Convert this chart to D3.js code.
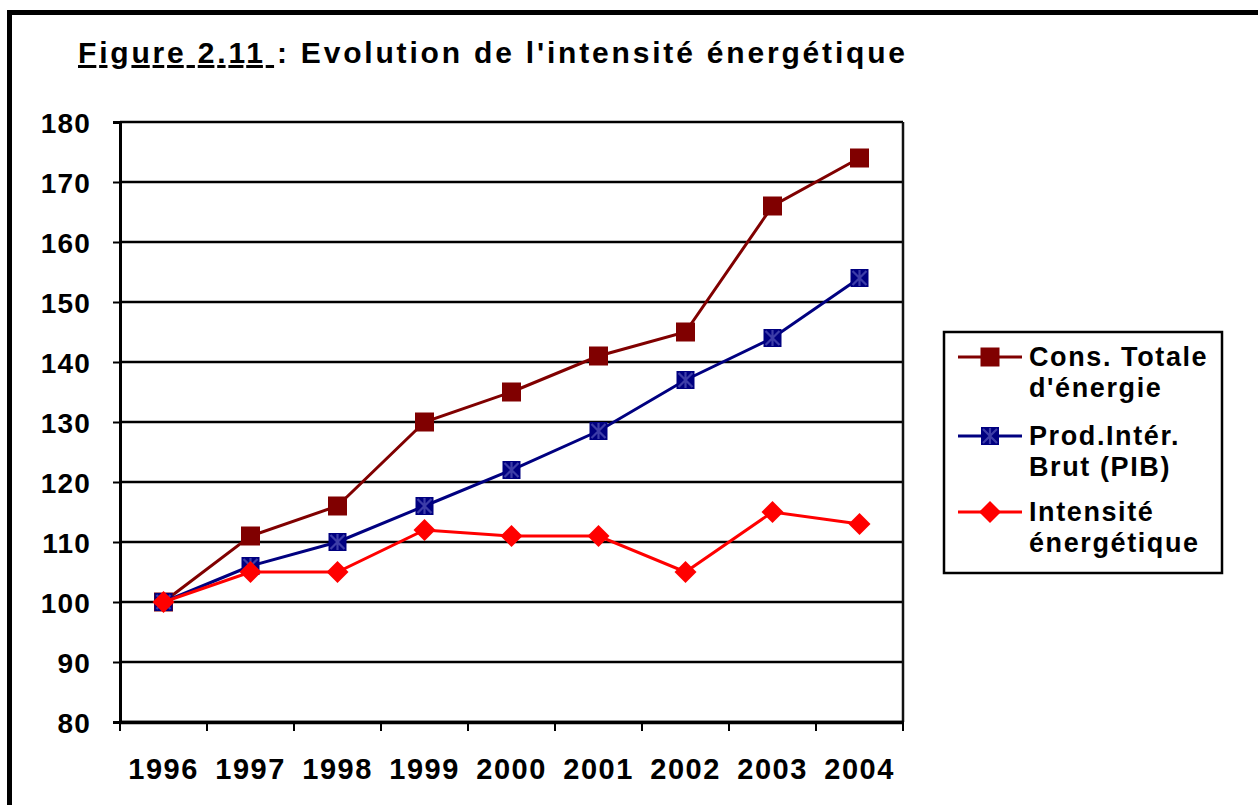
<!DOCTYPE html>
<html>
<head>
<meta charset="utf-8">
<script src="https://cdn.jsdelivr.net/npm/d3@7"></script>
<style>
  body { margin: 0; background: #fff; }
  text { font-family: "Liberation Sans", Arial, sans-serif; font-weight: bold; fill: #000; }
</style>
</head>
<body>
<svg id="chart" width="1258" height="805"></svg>
<script>
// data
const years = ["1996", "1997", "1998", "1999", "2000", "2001", "2002", "2003", "2004"];
const consTotale = [100, 111, 116, 130, 135, 141, 145, 166, 174];
const pib = [100, 106, 110, 116, 122, 128.5, 137, 144, 154];
const intensite = [100, 105, 105, 112, 111, 111, 105, 115, 113];
const yTicks = [80, 90, 100, 110, 120, 130, 140, 150, 160, 170, 180];

const series = [
  {name: ["Cons. Totale", "d'énergie"], values: consTotale, color: "#800000", marker: "square"},
  {name: ["Prod.Intér.", "Brut (PIB)"], values: pib, color: "#000080", marker: "star"},
  {name: ["Intensité", "énergétique"], values: intensite, color: "#ff0000", marker: "diamond"}
];

const width = 1258, height = 805;
const margin = {top: 122, right: 355, bottom: 83, left: 120};

const svg = d3.select("#chart");

// outer frame (cut off on the right and bottom)
svg.append("rect")
    .attr("x", 9.5).attr("y", 12.5)
    .attr("width", 1300).attr("height", 900)
    .attr("fill", "none").attr("stroke", "#000").attr("stroke-width", 5);

// title
const title = svg.append("text")
    .attr("x", 78).attr("y", 63)
    .attr("font-size", 30)
    .attr("textLength", 827).attr("lengthAdjust", "spacing");
title.append("tspan").attr("text-decoration", "underline").text("Figure 2.11 ");
title.append("tspan").text(": Evolution de l'intensité énergétique");

const x = d3.scaleBand(years, [margin.left, width - margin.right]).padding(0);
const y = d3.scaleLinear([80, 180], [height - margin.bottom, margin.top]);

const plot = svg.append("g");

// grid lines
plot.append("g")
  .selectAll("line")
  .data(yTicks)
  .join("line")
    .attr("x1", margin.left).attr("x2", width - margin.right)
    .attr("y1", d => y(d)).attr("y2", d => y(d))
    .attr("stroke", "#000").attr("stroke-width", 2.5);

// right border of plot area
plot.append("line")
    .attr("x1", width - margin.right).attr("x2", width - margin.right)
    .attr("y1", y(180)).attr("y2", y(80))
    .attr("stroke", "#111").attr("stroke-width", 2.5);

// y axis
const yAxis = svg.append("g")
    .attr("transform", `translate(${margin.left},0)`)
    .call(d3.axisLeft(y).tickValues(yTicks).tickSize(7).tickPadding(22));
yAxis.select(".domain").attr("stroke-width", 3);
yAxis.selectAll(".tick line").attr("stroke-width", 2);
yAxis.selectAll(".tick text")
    .attr("font-size", 28).attr("letter-spacing", 1.2)
    .attr("font-family", "Liberation Sans, Arial, sans-serif")
    .attr("font-weight", "bold").attr("fill", "#000")
    .attr("dy", "0.36em");

// x axis
const xAxis = svg.append("g")
    .attr("transform", `translate(0,${height - margin.bottom})`)
    .call(d3.axisBottom(x).tickSize(0));
xAxis.select(".domain").attr("stroke-width", 3.5);
xAxis.selectAll(".tick text")
    .attr("y", 57).attr("dy", 0)
    .attr("font-size", 29).attr("letter-spacing", 1.5)
    .attr("font-family", "Liberation Sans, Arial, sans-serif")
    .attr("font-weight", "bold").attr("fill", "#000");
xAxis.append("g")
  .selectAll("line")
  .data(years.map(d => x(d)).concat([x.range()[1]]))
  .join("line")
    .attr("x1", d => d).attr("x2", d => d)
    .attr("y1", 0).attr("y2", 9)
    .attr("stroke", "#000").attr("stroke-width", 2);

const cx = d => x(d) + x.bandwidth() / 2;

function drawMarker(g, type, color) {
  if (type === "square") {
    g.append("rect").attr("x", -9.5).attr("y", -9.5).attr("width", 19).attr("height", 19)
        .attr("fill", color);
  } else if (type === "star") {
    g.append("rect").attr("x", -9).attr("y", -9).attr("width", 18).attr("height", 18)
        .attr("fill", color);
    g.append("path").attr("d", "M0,-8V8M-7,-7L7,7M-7,7L7,-7")
        .attr("stroke", "#3d3da8").attr("stroke-width", 2.2);
  } else {
    g.append("path").attr("d", "M0,-11L11,0L0,11L-11,0Z").attr("fill", color);
  }
}

const line = d3.line().x((d, i) => cx(years[i])).y(d => y(d));

series.forEach(s => {
  plot.append("path")
      .attr("d", line(s.values))
      .attr("fill", "none").attr("stroke", s.color).attr("stroke-width", 3);
  plot.append("g")
    .selectAll("g")
    .data(s.values)
    .join("g")
      .attr("transform", (d, i) => `translate(${cx(years[i])},${y(d)})`)
      .each(function() { drawMarker(d3.select(this), s.marker, s.color); });
});

// legend
const legend = svg.append("g");
legend.append("rect")
    .attr("x", 944).attr("y", 332).attr("width", 278).attr("height", 241)
    .attr("fill", "#fff").attr("stroke", "#000").attr("stroke-width", 2.5);

const legendY = [357, 436, 512];
series.forEach((s, i) => {
  const g = legend.append("g").attr("transform", `translate(0,${legendY[i]})`);
  g.append("line").attr("x1", 958).attr("x2", 1022).attr("y1", 0).attr("y2", 0)
      .attr("stroke", s.color).attr("stroke-width", 3);
  drawMarker(g.append("g").attr("transform", "translate(990,0)"), s.marker, s.color);
  g.append("text")
      .attr("x", 1029).attr("y", 9)
      .attr("font-size", 27).attr("letter-spacing", 1.6)
      .selectAll("tspan")
      .data(s.name)
      .join("tspan")
        .attr("x", 1029)
        .attr("dy", (d, j) => j === 0 ? 0 : 31)
        .text(d => d);
});
</script>
</body>
</html>
